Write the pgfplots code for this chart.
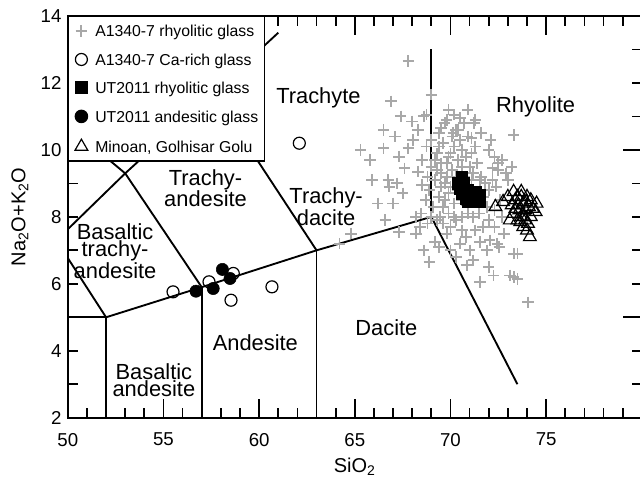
\documentclass[border=0pt]{standalone}
\usepackage{fontspec}
\setmainfont{Liberation Sans}
\usepackage{pgfplots}
\pgfplotsset{compat=1.18}
\definecolor{crossgray}{RGB}{168,168,168}

\begin{document}
\begin{tikzpicture}
\begin{axis}[
  name=ax,
  scale only axis,
  width=430.5pt, height=301.3pt,
  xmin=50, xmax=80, ymin=2, ymax=14,
  axis line style={line width=1.4pt},
  every tick/.style={black, line width=1.3pt},
  tick align=inside,
  major tick length=7.5pt,
  minor tick length=7.5pt,
  xtick={50,55,...,80},
  xticklabels={50,55,60,65,70,75,},
  minor x tick num=4,
  ytick={2,3,...,14},
  yticklabels={2,,4,,6,,8,,10,,12,,14},
  extra x ticks={50,55,...,80},
  extra x tick labels={},
  extra x tick style={major tick length=14pt},
  extra y ticks={5,10},
  extra y tick labels={},
  extra y tick style={major tick length=14pt},
  tick label style={font=\fontsize{14}{14}\selectfont},
  xticklabel shift=8pt,
  yticklabel shift=1.2pt,
  xlabel={SiO\textsubscript{2}},
  ylabel={Na\textsubscript{2}O+K\textsubscript{2}O},
  label style={font=\fontsize{15}{15}\selectfont},
  xlabel style={at={(axis description cs:0.5,0)}, anchor=north, yshift=-26.5pt},
  ylabel style={at={(axis description cs:-0.0834,0.5)}, anchor=center},
  legend cell align=left,
  legend image code/.code={\path (-4.5pt,0pt) (4.5pt,0pt); \draw[#1] plot coordinates {(0pt,0pt)};},
  legend style={at={(0,1)}, anchor=north west, draw=black, line width=1pt,
    font=\fontsize{11.85}{12}\selectfont, inner xsep=4.7pt, inner ysep=6.5pt,
    row sep=12.5pt, column sep=5.4pt,
    nodes={inner sep=0pt, text height=8.5pt, text depth=0pt}},
]
% field boundaries
\addplot[black, line width=1.4pt, forget plot] coordinates {(50,5) (52,5)};
\addplot[black, line width=1.4pt, forget plot] coordinates {(52,2) (52,5) (57,5.9) (63,7) (69,8) (73.5,3)};
\addplot[black, line width=1.4pt, forget plot] coordinates {(57,2) (57,5.9)};
\addplot[black, line width=1.4pt, forget plot] coordinates {(63,2) (63,7)};
\addplot[black, line width=1.4pt, forget plot] coordinates {(69,8) (69,13)};
\addplot[black, line width=1.4pt, forget plot] coordinates {(50,6.77) (52,5)};
\addplot[black, line width=1.4pt, forget plot] coordinates {(50,7.63) (53,9.3) (57.6,11.7) (61,13.5)};
\addplot[black, line width=1.4pt, forget plot] coordinates {(50,10.73) (53,9.3) (57,5.9)};
\addplot[black, line width=1.4pt, forget plot] coordinates {(57.6,11.7) (63,7)};

% A1340-7 rhyolitic glass
\addplot[only marks, mark=+, mark size=4.3pt, color=crossgray, mark options={line width=1.4pt}] coordinates {
(67.8,12.65) (69.0,11.65) (66.9,11.45) (66.5,10.6) (66.5,10.05) (68.0,10.85) (68.6,11.0) (68.75,11.05)
(69.9,11.2) (70.2,11.05) (70.5,10.95) (71.3,10.9) (71.25,10.8) (73.3,10.45) (69.5,10.65) (69.7,10.8)
(70.15,10.5) (70.4,10.6) (71.1,10.35) (68.05,10.3) (67.8,10.05) (68.75,10.1) (69.4,10.1) (70.6,10.0)
(69.9,9.8) (72.7,9.7) (73.2,9.5) (72.2,9.45) (72.5,9.6) (67.6,9.45) (68.3,9.35) (66.75,9.1)
(67.5,8.7) (68.5,8.95) (71.55,9.1) (73.0,9.1) (68.2,8.0) (69.45,8.0) (68.4,7.7) (67.3,7.55)
(68.2,7.5) (68.45,8.1) (68.6,7.0) (68.9,6.65) (69.2,7.25) (70.0,7.0) (70.5,7.2) (70.85,6.55)
(71.0,7.0) (71.55,6.05) (72.25,6.25) (73.3,6.2) (71.9,7.0) (72.45,7.2) (73.3,6.9) (71.55,7.25)
(72.05,7.3) (72.55,7.1) (73.5,6.9) (73.1,6.25) (73.5,6.15) (74.05,5.45) (72.8,7.5) (72.3,7.7)
(71.3,7.6) (70.8,7.4) (70.3,6.8) (71.2,6.7) (72.0,6.5) (70.6,7.6) (69.8,7.5) (69.4,7.1)
(64.2,7.2) (64.8,7.5) (65.3,10.0) (65.8,9.7) (66.2,8.4) (66.6,7.9) (67.0,8.4) (67.2,9.0)
(67.1,10.4) (67.4,11.0) (67.3,9.8) (66.8,8.9) (65.9,9.1)
(69.3,9.9) (69.6,10.2) (69.8,9.6) (70.0,9.9) (70.2,10.1) (70.4,9.7) (70.1,9.4) (69.5,9.3)
(69.7,9.0) (69.9,8.7) (69.4,8.6) (69.6,8.3) (69.9,8.1) (70.2,8.4) (70.0,8.9) (70.3,9.2)
(70.6,9.5) (70.8,9.8) (71.0,9.5) (71.2,9.3) (71.4,9.6) (71.1,9.9) (70.5,10.3) (70.9,10.4)
(71.3,10.1) (71.6,9.2) (71.8,9.0) (71.7,8.6) (72.0,8.8) (71.9,8.3) (71.5,8.1) (71.2,8.0)
(70.9,8.1) (70.6,8.0) (70.3,7.9) (70.0,7.7) (69.6,7.8) (69.3,7.9) (69.1,8.3) (69.2,9.1)
(69.0,9.5) (68.8,9.2) (68.9,8.8) (68.7,8.5) (69.4,10.5) (70.3,10.6) (70.7,10.8) (71.6,10.5)
(72.0,10.0) (72.3,9.8) (72.5,9.4) (72.2,9.1) (72.4,8.9) (72.9,9.3) (72.1,10.3) (70.1,10.4)
(69.8,10.9) (70.9,11.2) (69.5,9.6) (69.2,9.7) (70.7,9.2) (71.1,9.1) (69.8,9.2) (70.4,8.8)
(70.2,8.0) (69.0,8.0) (68.8,7.8) (69.5,8.9) (69.0,10.3) (68.5,9.7) (68.3,10.6) (72.6,8.5)
(72.3,8.2) (72.7,8.0) (72.0,7.9) (71.7,7.7) (69.7,8.5) (69.3,9.4) (70.6,8.5)
};
\addlegendentry{A1340-7 rhyolitic glass}

% A1340-7 Ca-rich glass
\addplot[only marks, mark=o, mark size=4.5pt, black, mark options={line width=0.9pt}] coordinates {
(55.5,5.76) (57.38,6.06) (58.65,6.31) (58.53,5.51) (60.67,5.91) (62.1,10.2)
};
\addlegendentry{A1340-7 Ca-rich glass}

% UT2011 rhyolitic glass
\addplot[only marks, mark=square*, mark size=4.3pt, black] coordinates {
(70.6,9.2) (70.4,9.0) (70.5,8.85) (70.7,9.0) (70.6,8.7) (70.9,8.8) (70.8,8.55) (71.1,8.6)
(71.3,8.75) (71.5,8.65) (71.5,8.45) (71.2,8.45) (70.9,8.45)
};
\addlegendentry{UT2011 rhyolitic glass}

% UT2011 andesitic glass
\addplot[only marks, mark=*, mark size=4.6pt, black] coordinates {
(56.7,5.78) (57.6,5.86) (58.08,6.43) (58.48,6.16)
};
\addlegendentry{UT2011 andesitic glass}

% Minoan, Golhisar Golu
\addplot[only marks, mark=triangle, mark size=5.5pt, black, mark options={line width=0.9pt}] coordinates {
(72.35,8.3) (72.75,8.45) (73.0,8.6) (73.3,8.75) (73.4,8.5) (73.55,8.35) (73.7,8.6) (74.0,8.6)
(74.2,8.5) (74.5,8.4) (74.45,8.15) (74.2,8.0) (73.9,8.2) (73.7,8.0) (73.5,7.9) (73.3,8.1)
(73.1,7.9) (73.65,7.85) (73.8,7.7) (74.0,7.6) (74.15,7.4) (73.9,7.9) (74.1,8.3) (73.6,8.2)
(73.8,8.4) (73.4,8.25) (73.2,8.35) (73.95,8.45) (74.3,8.25) (73.7,8.75) (73.85,8.0) (74.05,7.8)
(73.5,8.6)
};
\addlegendentry{Minoan, Golhisar Golu}

% field names
\begin{scope}[every node/.style={font=\fontsize{16.4}{13.2}\selectfont, align=center, inner sep=0pt}]
\node at (axis cs:63.1,11.55) {Trachyte};
\node at (axis cs:74.45,11.29) {Rhyolite};
\node at (axis cs:57.2,8.86) {Trachy-\\andesite};
\node at (axis cs:63.5,8.3) {Trachy-\\dacite};
\node at (axis cs:52.47,6.98) {Basaltic\\trachy-\\andesite};
\node at (axis cs:54.5,3.12) {Basaltic\\andesite};
\node at (axis cs:59.8,4.23) {Andesite};
\node at (axis cs:66.65,4.68) {Dacite};
\end{scope}
\end{axis}
\pgfresetboundingbox
\path[use as bounding box] ([xshift=-50.85pt,yshift=-48.2pt]ax.south west) rectangle ([xshift=429.15pt,yshift=12pt]ax.north west);
\end{tikzpicture}
\end{document}
